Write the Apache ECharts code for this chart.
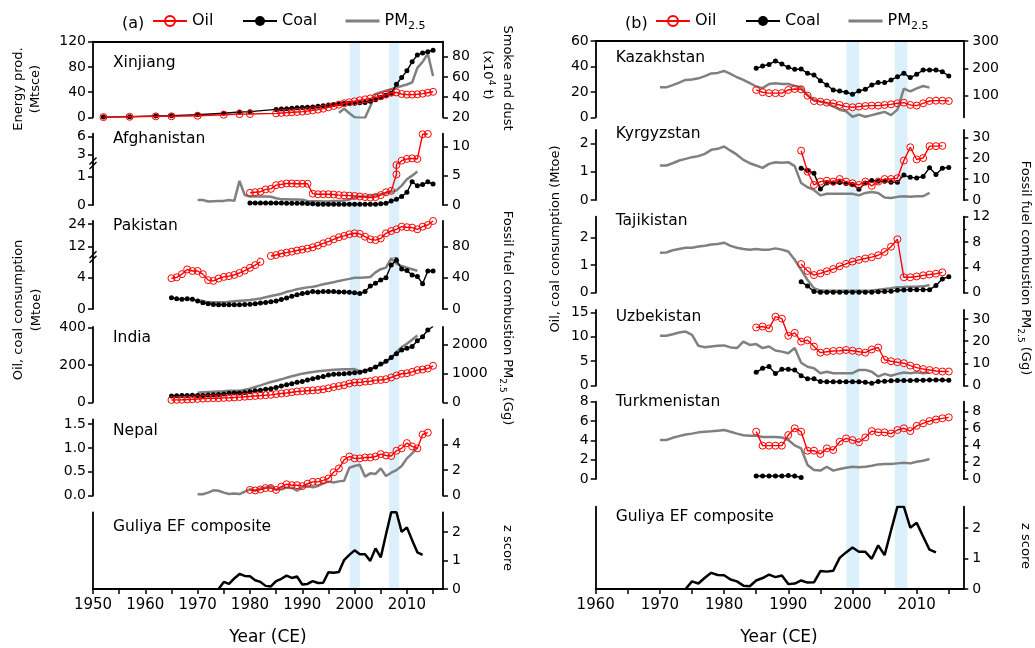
<!DOCTYPE html>
<html><head><meta charset="utf-8">
<script src="https://cdn.jsdelivr.net/npm/echarts@6/dist/echarts.min.js"></script>
<style>html,body{margin:0;padding:0;background:#fff}#c{width:1035px;height:648px}</style>
</head><body><div id="c"></div>
<script>
function yr(a, b, s) { s = s || 1; const r = []; for (let y = a; y <= b; y += s) r.push(y); return r; }

// ---------------- tick labels ----------------
const xTicksA = yr(1950, 2015, 5), xLabelsA = yr(1950, 2010, 10);
const xTicksB = yr(1960, 2015, 5), xLabelsB = yr(1960, 2010, 10);
const BAND_SPANS = [[1999.05, 2001.05], [2006.6, 2008.55]];

// ---------------- (a) Xinjiang ----------------
const xjYears = [1952, 1957, 1962, 1965, 1970, 1975, 1978, 1980].concat(yr(1985, 2015));
const xjOil = [0.3, 0.8, 1.5, 1.6, 2.5, 4.0, 5.0, 5.2,
  6.3, 6.9, 7.4, 7.9, 8.5, 9.0, 10.0, 11.1, 12.2, 13.7, 15.9, 18.0, 20.0, 22.2, 23.8, 25.4, 27.0, 28.5, 30.0, 31.7,
  33.3, 36.0, 39.0, 39.5, 37.0, 36.0, 36.0, 36.5, 37.5, 39.0, 40.5];
const xjCoal = [0.3, 1.0, 2.0, 2.6, 4.0, 6.5, 8.5, 9.0,
  12.5, 13.0, 13.5, 14.5, 15.0, 15.5, 16.0, 16.5, 17.5, 18.5, 19.5, 20.5, 21.5, 22.0, 22.5, 22.5, 23.0, 23.5, 25.5, 28.0,
  31.5, 35.0, 38.0, 52.5, 63.0, 74.0, 88.0, 99.0, 102.0, 104.0, 106.5];
const xjPMYears = yr(1997, 2015);
const xjPM = [24.5, 28.5, 24, 20, 19.5, 19.5, 31, 43, 45, 46.5, 48, 49.5, 51, 52.5, 54.5, 69, 75, 83, 61];
const xjLeftTicks = [0, 40, 80, 120], xjRightTicks = [20, 40, 60, 80];

// ---------------- PM years shared ----------------
const pmYears = yr(1970, 2012);

// ---------------- Afghanistan ----------------
const afOilYears = yr(1980, 2008).concat(yr(2008, 2014));
const afOil = [0.43, 0.45, 0.47, 0.55, 0.57, 0.70, 0.73, 0.76, 0.76, 0.75, 0.75, 0.75,
  0.40, 0.38, 0.38, 0.38, 0.37, 0.35, 0.34, 0.33, 0.32, 0.30, 0.28, 0.26, 0.28, 0.35, 0.45,
  0.50, 1.08, 1.41, 1.91, 2.2, 2.3, 2.2, 6.4, 6.45];
const afCoalYears = yr(1980, 2015);
const afCoal = [0.07, 0.07, 0.07, 0.07, 0.07, 0.07, 0.07, 0.06, 0.06, 0.06, 0.06, 0.05,
  0.04, 0.03, 0.03, 0.03, 0.03, 0.03, 0.03, 0.03, 0.03, 0.03, 0.03, 0.03, 0.03, 0.04, 0.06,
  0.14, 0.2, 0.3, 0.45, 0.82, 0.68, 0.72, 0.82, 0.74];
const afPM = [0.85, 0.85, 0.6, 0.65, 0.7, 0.7, 0.85, 0.7, 4.1, 1.7, 1.45, 1.45, 1.45, 1.45, 1.4, 1.15, 1.0, 1.0, 0.95, 0.95,
  0.9, 0.7, 0.65, 0.65, 0.6, 0.6, 0.7, 0.7, 0.75, 0.95, 1.25, 1.4, 1.45, 1.5, 1.7, 1.85, 2.0, 2.2, 2.5, 3.3, 4.4, 5.0, 5.7];
const afLowTicks = [0, 1], afHighTicks = [3, 6], afRightTicks = [0, 5, 10];

// ---------------- Pakistan ----------------
const pkYears = yr(1965, 2015);
const pkOil = [3.88, 4.0, 4.4, 5.0, 4.8, 4.8, 4.4, 3.65, 3.55, 3.85, 4.05, 4.15, 4.3, 4.55, 4.85, 5.2, 5.55, 5.95, null, 7.1,
  7.6, 8.4, 8.9, 9.4, 10.0, 10.5, 11.0, 11.7, 12.6, 13.8, 14.7, 15.9, 17.0, 17.7, 18.6, 19.1, 18.8, 17.3, 15.9, 15.5,
  16.4, 19.1, 20.3, 21.2, 22.6, 22.3, 22.1, 21.2, 22.6, 23.5, 25.6];
const pkCoal = [1.43, 1.3, 1.22, 1.3, 1.22, 1.0, 0.8, 0.67, 0.58, 0.55, 0.55, 0.55, 0.55, 0.55, 0.58, 0.6, 0.67, 0.76, 0.82, 0.9,
  1.0, 1.2, 1.4, 1.6, 1.8, 1.95, 2.05, 2.2, 2.15, 2.2, 2.2, 2.2, 2.15, 2.15, 2.1, 2.05, 1.95, 2.2, 2.9, 3.25,
  3.65, 3.95, 5.55, 6.15, 5.05, 4.85, 4.3, 4.1, 3.2, 4.8, 4.8];
const pkPM = [11.5, 10.2, 8.5, 8.5, 8.5, 8.5, 9.4, 10, 10.5, 11, 11.5, 12.4, 13.5, 15, 16.6, 17.9, 19.6, 22, 23.5, 25.2,
  26.5, 27.7, 28.6, 29.9, 31.6, 33, 34.3, 36, 37.3, 38.6, 40, 40, 40.5, 41, 47, 51, 53, 65, 58, 55, 53, 51, 49];
const pkLowTicks = [0, 4], pkHighTicks = [12, 24], pkRightTicks = [0, 40, 80];

// ---------------- India ----------------
const inYears = yr(1965, 2015);
const inOil = [12.5, 13.2, 14, 15.4, 16.5, 18, 19.5, 21, 22, 22, 23.5, 24.5, 26, 28, 30, 32, 34, 36, 38, 40,
  44, 47, 50, 54, 58, 60, 62, 64, 66, 70, 75, 82, 87, 92, 101, 106, 107, 111, 113, 119,
  120, 124, 133, 144, 153, 156, 163, 173, 176, 181, 196];
const inCoal = [34, 35, 36, 37, 38, 37, 37, 39, 40, 42, 45, 48, 50, 50, 52, 56, 62, 65, 70, 73,
  80, 88, 94, 100, 107, 112, 120, 127, 133, 138, 146, 150, 152, 153, 156, 159, 161, 168, 176, 190,
  205, 220, 241, 260, 280, 290, 299, 330, 352, 388, 407];
const inPM = [331, 345, 355, 365, 375, 385, 400, 400, 395, 437, 471, 529, 586, 644, 701, 747, 793, 850, 897, 943,
  989, 1023, 1046, 1069, 1092, 1103, 1126, 1135, 1140, 1145, 1149, 1069, 1092, 1161, 1218, 1299, 1391, 1540, 1736, 1908,
  2023, 2161, 2310];
const inLeftTicks = [0, 200, 400], inRightTicks = [0, 1000, 2000];

// ---------------- Nepal ----------------
const npOilYears = yr(1980, 2014);
const npOil = [0.12, 0.11, 0.13, 0.16, 0.16, 0.12, 0.19, 0.24, 0.22, 0.22, 0.2, 0.25, 0.29, 0.29, 0.32, 0.36, 0.49, 0.57, 0.75, 0.82,
  0.78, 0.78, 0.8, 0.8, 0.82, 0.87, 0.84, 0.83, 0.94, 0.99, 1.1, 1.03, 0.99, 1.28, 1.32];
const npPM = [0.11, 0.11, 0.24, 0.42, 0.39, 0.24, 0.13, 0.18, 0.13, 0.31, 0.5, 0.39, 0.57, 0.65, 0.76, 0.44, 0.57, 0.63, 0.63, 0.39,
  0.65, 0.76, 0.65, 0.76, 0.96, 1.1, 1.04, 1.12, 1.17, 2.19, 2.32, 2.43, 1.49, 1.75, 1.7, 2.14, 1.54, 1.8, 2.0, 2.32, 2.92, 3.31, 3.76];
const npLeftTicks = [0, 0.5, 1, 1.5], npRightTicks = [0, 2, 4, 6];

// ---------------- Guliya EF composite ----------------
const guYears = yr(1974, 2013);
const guZ = [0, 0.25, 0.18, 0.37, 0.53, 0.46, 0.45, 0.31, 0.25, 0.11, 0.09, 0.28, 0.36, 0.47, 0.39, 0.44, 0.16, 0.18, 0.28, 0.21,
  0.22, 0.59, 0.57, 0.6, 1.02, 1.2, 1.36, 1.22, 1.22, 0.99, 1.43, 1.11, 1.92, 2.7, 2.7, 2.01, 2.17, 1.72, 1.29, 1.2];
const guRightTicks = [0, 1, 2];

// ---------------- (b) Kazakhstan ----------------
const ctYears = yr(1985, 2015);
const kzOil = [21.5, 19.7, 19, 19, 19, 21.5, 22.3, 22, 17, 12.8, 12.3, 11.5, 11, 9.7, 8.4, 7.9, 8.4, 8.9, 9.2, 9.2,
  9.7, 10.2, 11, 11.5, 9.7, 9.2, 11, 12.8, 13.1, 13.1, 12.8];
const kzCoal = [38.5, 40.3, 41.6, 44.3, 41.9, 39.3, 37.7, 38, 34.6, 33.3, 28.8, 25.4, 21.5, 20.7, 19.7, 18.1, 20.7, 22, 25.4, 27.3,
  27.3, 29.3, 31.9, 34.6, 31.2, 33.8, 37.2, 37.2, 37.2, 35.9, 32.5];
const kzPM = [130, 130, 138, 147, 157, 159, 163, 171, 181, 183, 190, 179, 167, 157, 145, 133, 127, 142, 145, 142,
  142, 135, 130, 102, 84, 78, 72, 60, 48, 42, 22, 30, 22, 28, 34, 40, 28, 48, 125, 115, 126, 135, 129];
const kzLeftTicks = [0, 20, 40, 60], kzRightTicks = [100, 200, 300];

// ---------------- Kyrgyzstan ----------------
const kgOilYears = yr(1992, 2014), kgCoalYears = yr(1992, 2015);
const kgOil = [1.74, 1.0, 0.53, 0.65, 0.68, 0.65, 0.74, 0.65, 0.59, 0.53, 0.65, 0.5, 0.65, 0.74, 0.74, 0.77, 1.39, 1.86, 1.43, 1.48, 1.9, 1.9, 1.91];
const kgCoal = [1.12, 1.04, 0.94, 0.39, 0.6, 0.6, 0.62, 0.58, 0.55, 0.38, 0.6, 0.69, 0.66, 0.66, 0.63, 0.63, 0.88, 0.8, 0.78, 0.83, 1.14, 0.9, 1.12, 1.15];
const kgPM = [16.5, 16.5, 17.6, 18.9, 19.7, 20.5, 21, 22.1, 24, 24.5, 25.6, 23.6, 21.7, 19.2, 17.6, 16.5, 15.4, 17.3, 18.1, 17.8,
  18.1, 16.2, 8.1, 6.1, 4.8, 2.2, 3, 3, 3, 3, 3, 2.2, 3.4, 3.8, 3.4, 1.2, 1.0, 1.5, 1.8, 1.5, 1.8, 1.8, 3.4];
const kgLeftTicks = [0, 1, 2], kgRightTicks = [0, 10, 20, 30], kgRightMinor = [5, 15, 25];

// ---------------- Tajikistan ----------------
const tjOil = [1.04, 0.79, 0.64, 0.7, 0.78, 0.86, 0.96, 1.05, 1.13, 1.19, 1.24, 1.29, 1.36, 1.48, 1.67, 1.94, 0.56, 0.56, 0.59, 0.63, 0.66, 0.69, 0.74];
const tjCoal = [0.4, 0.24, 0.04, 0.02, 0.02, 0.02, 0.02, 0.02, 0.02, 0.02, 0.02, 0.02, 0.03, 0.04, 0.05, 0.09, 0.1, 0.11, 0.11, 0.11, 0.11, 0.26, 0.5, 0.58];
const tjPM = [6.3, 6.35, 6.7, 6.9, 7.1, 7.1, 7.3, 7.4, 7.6, 7.7, 7.9, 7.4, 7.1, 6.9, 6.8, 6.9, 6.8, 6.8, 7.0, 6.8,
  6.5, 5.2, 3.6, 2.0, 0.7, 0.33, 0.3, 0.3, 0.3, 0.3, 0.3, 0.3, 0.3, 0.35, 0.47, 0.6, 0.7, 0.86, 0.9, 0.95, 0.95, 1.0, 1.2];
const tjLeftTicks = [0, 1, 2], tjRightTicks = [0, 4, 8, 12], tjRightMinor = [2, 6, 10];

// ---------------- Uzbekistan ----------------
const uzOil = [11.9, 12.1, 11.7, 14.1, 13.7, 10.2, 10.8, 9.0, 9.3, 8.0, 6.75, 6.95, 7.1, 7.15, 7.3, 7.15, 6.95, 6.75, 7.4, 7.8,
  5.3, 5.0, 4.8, 4.6, 4.1, 3.7, 3.4, 3.2, 3.0, 2.9, 2.9];
const uzCoal = [2.73, 3.55, 3.9, 2.5, 3.35, 3.35, 3.2, 2.05, 1.4, 1.4, 0.85, 0.8, 0.8, 0.8, 0.8, 0.8, 0.8, 0.7, 0.5, 0.85,
  0.9, 1.0, 1.05, 1.05, 1.05, 1.1, 1.1, 1.15, 1.15, 1.15, 1.1];
const uzPM = [22.4, 22.4, 23.1, 23.9, 24.3, 22.8, 17.9, 17.3, 17.6, 17.9, 18.1, 17.2, 16.9, 19.8, 18.3, 18.7, 16.9, 17.6, 15.8, 15.3,
  14.6, 16.9, 10.3, 8.5, 7.8, 5.6, 6.3, 5.6, 5.6, 5.6, 5.6, 7.1, 7.1, 6.3, 4.1, 5.3, 4.5, 5.3, 5.9, 5.6, 6.0, 5.6, 5.9];
const uzLeftTicks = [0, 5, 10, 15], uzRightTicks = [0, 10, 20, 30], uzRightMinor = [5, 15, 25];

// ---------------- Turkmenistan ----------------
const tmCoalYears = yr(1985, 1992);
const tmOil = [4.9, 3.45, 3.45, 3.45, 3.45, 4.55, 5.25, 4.9, 2.93, 2.93, 2.59, 3.17, 3.0, 3.86, 4.2, 4.03, 3.8, 4.3, 4.96, 4.83,
  4.83, 4.7, 5.07, 5.25, 4.96, 5.5, 5.76, 6.0, 6.16, 6.28, 6.38];
const tmCoal = [0.31, 0.31, 0.31, 0.31, 0.31, 0.35, 0.31, 0.15];
const tmPM = [4.64, 4.64, 4.9, 5.1, 5.3, 5.4, 5.55, 5.63, 5.67, 5.75, 5.83, 5.63, 5.4, 5.2, 5.15, 5.15, 5.0, 5.0, 5.0, 4.95,
  4.64, 4.0, 3.65, 1.66, 1.07, 1.0, 1.46, 1.0, 1.2, 1.35, 1.46, 1.4, 1.46, 1.58, 1.74, 1.78, 1.78, 1.86, 1.94, 1.86, 2.06, 2.18, 2.38];
const tmLeftTicks = [0, 2, 4, 6, 8], tmRightTicks = [0, 2, 4, 6, 8], tmRightMinor = [1, 3, 5, 7];

// ================= layout & styles =================
const FONT = 'DejaVu Sans';
const RED = '#ff0000', BLACK = '#000000', GRAY = '#808080', BAND = '#dcf0fc';
const LW = 1.8;

const colA = { left: 93, width: 350, xMin: 1950, xMax: 2016.9, xTicks: xTicksA, xLabels: xLabelsA, bandTop: 41.7, bandBottom: 589 };
const colB = { left: 595.7, width: 367.6, xMin: 1960, xMax: 2017.26, xTicks: xTicksB, xLabels: xLabelsB, bandTop: 41, bandBottom: 589 };

const fmt1 = v => Number(v).toFixed(1);

const panelsA = [
  { label: 'Xinjiang', top: 41.7, bottom: 117.3, labelDy: 21, xMode: 'top',
    left: { min: 0, max: 120, ticks: xjLeftTicks }, right: { min: 20, max: 95, ticks: xjRightTicks },
    pm: [xjPMYears, xjPM], coal: [xjYears, xjCoal], oil: [xjYears, xjOil] },
  { label: 'Afghanistan', top: 133.7, bottom: 205, labelDy: 5.6, split: 163.2, breakAt: 1.476,
    low: { ticks: afLowTicks }, high: { max: 6.5, ticks: afHighTicks }, right: { min: 0, max: 12.15, ticks: afRightTicks },
    pm: [pmYears, afPM], coal: [afCoalYears, afCoal], oil: [afOilYears, afOil] },
  { label: 'Pakistan', top: 220.8, bottom: 309, labelDy: 5.2, split: 257, breakAt: 6.567,
    low: { ticks: pkLowTicks }, high: { max: 25.7, ticks: pkHighTicks }, right: { min: 0, max: 113, ticks: pkRightTicks },
    pm: [pmYears, pkPM], coal: [pkYears, pkCoal], oil: [pkYears, pkOil] },
  { label: 'India', top: 327, bottom: 402.3, labelDy: 11.3,
    left: { min: 0, max: 404, ticks: inLeftTicks }, right: { min: 0, max: 2600, ticks: inRightTicks },
    pm: [pmYears, inPM], coal: [inYears, inCoal], oil: [inYears, inOil] },
  { label: 'Nepal', top: 419.5, bottom: 495.7, labelDy: 11.2,
    left: { min: 0, max: 1.594, ticks: npLeftTicks, fmt: fmt1 }, right: { min: 0, max: 5.96, ticks: npRightTicks },
    pm: [pmYears, npPM], oil: [npOilYears, npOil] },
  { label: 'Guliya EF composite', top: 512.3, bottom: 589, labelDy: 14.4, xMode: 'bottom',
    left: { min: 0, max: 2.7, ticks: [] }, right: { min: 0, max: 2.7, ticks: guRightTicks },
    z: [guYears, guZ] }
];

const panelsB = [
  { label: 'Kazakhstan', top: 41, bottom: 117.3, labelDy: 17.3, xMode: 'top',
    left: { min: 0, max: 60, ticks: kzLeftTicks }, right: { min: 20, max: 300, ticks: kzRightTicks },
    pm: [pmYears, kzPM], coal: [ctYears, kzCoal], oil: [ctYears, kzOil] },
  { label: 'Kyrgyzstan', top: 130, bottom: 200, labelDy: 4,
    left: { min: 0, max: 2.47, ticks: kgLeftTicks }, right: { min: 0, max: 33.5, ticks: kgRightTicks, minor: kgRightMinor },
    pm: [pmYears, kgPM], coal: [kgCoalYears, kgCoal], oil: [kgOilYears, kgOil] },
  { label: 'Tajikistan', top: 216.7, bottom: 292.7, labelDy: 4,
    left: { min: 0, max: 2.76, ticks: tjLeftTicks }, right: { min: 0, max: 12, ticks: tjRightTicks, minor: tjRightMinor },
    pm: [pmYears, tjPM], coal: [kgCoalYears, tjCoal], oil: [kgOilYears, tjOil] },
  { label: 'Uzbekistan', top: 310, bottom: 385.7, labelDy: 6.7,
    left: { min: 0, max: 15.47, ticks: uzLeftTicks }, right: { min: 0, max: 34, ticks: uzRightTicks, minor: uzRightMinor },
    pm: [pmYears, uzPM], coal: [ctYears, uzCoal], oil: [ctYears, uzOil] },
  { label: 'Turkmenistan', top: 401.7, bottom: 479, labelDy: 0,
    left: { min: 0, max: 8, ticks: tmLeftTicks }, right: { min: 0, max: 9.2, ticks: tmRightTicks, minor: tmRightMinor },
    pm: [pmYears, tmPM], coal: [tmCoalYears, tmCoal], oil: [ctYears, tmOil] },
  { label: 'Guliya EF composite', top: 506.7, bottom: 589, labelDy: 10, xMode: 'bottom',
    left: { min: 0, max: 2.7, ticks: [] }, right: { min: 0, max: 2.7, ticks: guRightTicks },
    z: [guYears, guZ] }
];

const STYLE = {
  oil: { name: 'Oil', symbol: 'circle', symbolSize: 7, lineStyle: { color: RED, width: 1.4 },
         itemStyle: { color: 'rgba(255,255,255,0)', borderColor: RED, borderWidth: 1 }, z: 4 },
  coal: { name: 'Coal', symbol: 'circle', symbolSize: 5, lineStyle: { color: BLACK, width: 1.4 },
          itemStyle: { color: BLACK, borderWidth: 0 }, z: 3 },
  pm: { name: 'PM2.5', symbol: 'none', lineStyle: { color: GRAY, width: 2.5 }, itemStyle: { color: GRAY }, z: 2 },
  z: { name: 'Guliya', symbol: 'none', lineStyle: { color: BLACK, width: 2.5 }, itemStyle: { color: BLACK }, z: 3 }
};

const grids = [], xAxes = [], yAxes = [], series = [], graphics = [];

function addGrid(left, top, width, height) {
  grids.push({ left: left, top: top, width: width, height: height, containLabel: false });
  return grids.length - 1;
}
function addX(gi, col, mode) {
  const ax = { type: 'value', gridIndex: gi, min: col.xMin, max: col.xMax, splitLine: { show: false }, z: 5 };
  if (mode === 'top') {
    ax.position = 'top';
    ax.axisLine = { show: true, onZero: false, lineStyle: { color: BLACK, width: LW } };
    ax.axisTick = { show: false }; ax.axisLabel = { show: false };
  } else if (mode === 'bottom') {
    ax.position = 'bottom';
    ax.axisLine = { show: true, onZero: false, lineStyle: { color: BLACK, width: LW } };
    ax.axisTick = { show: true, customValues: col.xTicks, length: 5, lineStyle: { color: BLACK, width: 1.5 } };
    ax.axisLabel = { show: true, customValues: col.xLabels, fontSize: 15, fontFamily: FONT, color: BLACK, margin: 9,
      formatter: v => String(Math.round(v)) };
  } else {
    ax.show = false;
    ax.axisLine = { onZero: false };
  }
  xAxes.push(ax);
  return xAxes.length - 1;
}
function addY(gi, pos, spec) {
  const has = spec.ticks && spec.ticks.length > 0;
  const ax = { type: 'value', gridIndex: gi, position: pos, min: spec.min, max: spec.max, z: 5,
    axisLine: { show: true, onZero: false, lineStyle: { color: BLACK, width: LW } },
    axisTick: { show: has, length: 5, lineStyle: { color: BLACK, width: 1.5 } },
    axisLabel: { show: has, fontSize: 14, fontFamily: FONT, color: BLACK, margin: pos === 'left' ? 7 : 9,
      formatter: spec.fmt || (v => String(+Number(v).toPrecision(6))) },
    splitLine: { show: false } };
  if (has) { ax.axisTick.customValues = spec.ticks; ax.axisLabel.customValues = spec.ticks; }
  yAxes.push(ax);
  const idx = yAxes.length - 1;
  if (spec.minor) {
    yAxes.push({ type: 'value', gridIndex: gi, position: pos, min: spec.min, max: spec.max, z: 5,
      axisLine: { show: false, onZero: false },
      axisTick: { show: true, customValues: spec.minor, length: 3, lineStyle: { color: BLACK, width: 1.3 } },
      axisLabel: { show: false }, splitLine: { show: false } });
  }
  return idx;
}
function addLine(kind, target, pair) {
  const st = STYLE[kind];
  const years = pair[0], vals = pair[1];
  series.push(Object.assign({ type: 'line', xAxisIndex: target[0], yAxisIndex: target[1],
    data: years.map((y, i) => [y, vals[i]]), showSymbol: st.symbol !== 'none', connectNulls: false,
    clip: true, animation: false, emphasis: { disabled: true } }, JSON.parse(JSON.stringify(st))));
}

function buildColumn(col, panels) {
  const bg = addGrid(col.left, col.bandTop, col.width, col.bandBottom - col.bandTop);
  const bx = addX(bg, col, 'hidden');
  yAxes.push({ type: 'value', gridIndex: bg, show: false, min: 0, max: 1 });
  const by = yAxes.length - 1;
  series.push({ type: 'line', xAxisIndex: bx, yAxisIndex: by, data: [], z: 1, silent: true, animation: false,
    markArea: { silent: true, itemStyle: { color: BAND }, data: BAND_SPANS.map(s => [{ xAxis: s[0] }, { xAxis: s[1] }]) } });

  panels.forEach(p => {
    const g = addGrid(col.left, p.top, col.width, p.bottom - p.top);
    const xi = addX(g, col, p.xMode || 'hidden');
    let leftTargets, rightTarget;
    if (p.split) {
      const yr_ = addY(g, 'right', p.right);
      rightTarget = [xi, yr_];
      const gl = addGrid(col.left, p.split, col.width, p.bottom - p.split);
      const xl = addX(gl, col, 'hidden');
      const yl = addY(gl, 'left', { min: 0, max: p.breakAt, ticks: p.low.ticks });
      const gh = addGrid(col.left, p.top, col.width, p.split - p.top);
      const xh = addX(gh, col, 'hidden');
      const yh = addY(gh, 'left', { min: p.breakAt, max: p.high.max, ticks: p.high.ticks });
      leftTargets = [[xl, yl], [xh, yh]];
      // break marks "//" on the left spine
      [-2.2, 2.2].forEach(d => {
        graphics.push({ type: 'line', z: 30,
          shape: { x1: col.left - 3.5, y1: p.split + d + 3.5, x2: col.left + 3.5, y2: p.split + d - 3.5 },
          style: { stroke: BLACK, lineWidth: 1.4 } });
      });
    } else {
      const yl = addY(g, 'left', p.left);
      const yr_ = addY(g, 'right', p.right);
      leftTargets = [[xi, yl]]; rightTarget = [xi, yr_];
    }
    if (p.pm) addLine('pm', rightTarget, p.pm);
    if (p.coal) leftTargets.forEach(t => addLine('coal', t, p.coal));
    if (p.oil) leftTargets.forEach(t => addLine('oil', t, p.oil));
    if (p.z) addLine('z', rightTarget, p.z);
    graphics.push({ type: 'text', z: 20, x: col.left + 20, y: p.top + p.labelDy,
      style: { text: p.label, fontSize: 15.5, fontFamily: FONT, fill: BLACK, align: 'left', verticalAlign: 'middle' } });
  });
}
buildColumn(colA, panelsA);
buildColumn(colB, panelsB);

// ---------- axis titles ----------
const RICH = {
  n: { fontSize: 13, fontFamily: FONT, fill: BLACK, lineHeight: 18, verticalAlign: 'middle' },
  s: { fontSize: 9, fontFamily: FONT, fill: BLACK, lineHeight: 10, verticalAlign: 'bottom' },
  p: { fontSize: 9, fontFamily: FONT, fill: BLACK, lineHeight: 10, verticalAlign: 'top' }
};
function vtext(x, y, text, dir) {
  graphics.push({ type: 'text', z: 20, x: x, y: y, rotation: dir * Math.PI / 2,
    style: { text: text, rich: RICH, fontSize: 13, fontFamily: FONT, fill: BLACK, align: 'center', verticalAlign: 'middle' } });
}
vtext(19, 89, '{n|Energy prod.}', 1);
vtext(36, 89, '{n|(Mtsce)}', 1);
vtext(19, 310, '{n|Oil, coal consumption}', 1);
vtext(37, 310, '{n|(Mtoe)}', 1);
vtext(507, 78, '{n|Smoke and dust}', -1);
vtext(487, 75, '{n|(x10}{p|4}{n| t)}', -1);
vtext(507, 318, '{n|Fossil fuel combustion PM}{s|2.5}{n| (Gg)}', -1);
vtext(507, 548, '{n|z score}', -1);
vtext(556, 239, '{n|Oil, coal consumption (Mtoe)}', 1);
vtext(1025, 268, '{n|Fossil fuel combustion PM}{s|2.5}{n| (Gg)}', -1);
vtext(1025, 546, '{n|z score}', -1);

graphics.push({ type: 'text', z: 20, x: 268, y: 638, style: { text: 'Year (CE)', fontSize: 17, fontFamily: FONT, fill: BLACK, align: 'center', verticalAlign: 'middle' } });
graphics.push({ type: 'text', z: 20, x: 779, y: 638, style: { text: 'Year (CE)', fontSize: 17, fontFamily: FONT, fill: BLACK, align: 'center', verticalAlign: 'middle' } });
graphics.push({ type: 'text', z: 20, x: 122, y: 24, style: { text: '(a)', fontSize: 16, fontFamily: FONT, fill: BLACK, align: 'left', verticalAlign: 'middle' } });
graphics.push({ type: 'text', z: 20, x: 625, y: 24, style: { text: '(b)', fontSize: 16, fontFamily: FONT, fill: BLACK, align: 'left', verticalAlign: 'middle' } });

// ---------- legends ----------
function legendAt(left) {
  return {
    left: left, top: 13, padding: 0, itemWidth: 34, itemHeight: 12.5, itemGap: 8, selectedMode: false,
    data: [{ name: 'Oil' }, { name: 'Coal' },
           { name: 'PM2.5', itemStyle: { opacity: 0 }, lineStyle: { width: 3, color: GRAY } }],
    formatter: name => name === 'Oil' ? '{o|Oil}' : (name === 'Coal' ? '{c|Coal}' : '{t|PM}{s|2.5}'),
    textStyle: { fontFamily: FONT, fontSize: 16, color: BLACK,
      rich: { o: { fontFamily: FONT, fontSize: 16, width: 42, lineHeight: 22 },
              c: { fontFamily: FONT, fontSize: 16, width: 54, lineHeight: 22 },
              t: { fontFamily: FONT, fontSize: 16, lineHeight: 22 },
              s: { fontFamily: FONT, fontSize: 11, lineHeight: 12, verticalAlign: 'bottom' } } }
  };
}

const chart = echarts.init(document.getElementById('c'), null, { renderer: 'canvas' });
chart.setOption({
  animation: false,
  backgroundColor: '#ffffff',
  grid: grids, xAxis: xAxes, yAxis: yAxes, series: series,
  legend: [legendAt(152), legendAt(655)],
  graphic: graphics
});
</script></body></html>
